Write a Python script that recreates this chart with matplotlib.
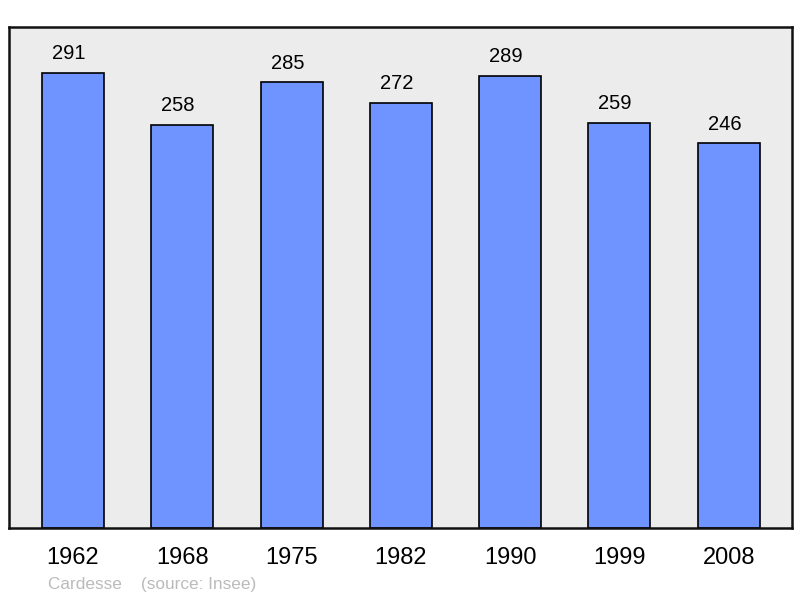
import matplotlib
matplotlib.use("Agg")
import matplotlib.pyplot as plt

years = ["1962", "1968", "1975", "1982", "1990", "1999", "2008"]
population = [291, 258, 285, 272, 289, 259, 246]

plt.rcParams['font.family'] = ['Liberation Sans', 'DejaVu Sans']

fig = plt.figure(figsize=(8.0, 5.98), dpi=100)
W, H = 800, 598
ax = fig.add_axes([9 / W, 1 - 528 / H, (792 - 9) / W, (528 - 27) / H])
ax.set_facecolor('#ececec')

x = list(range(len(years)))
bars = ax.bar(x, population, width=0.567, color='#7094ff', edgecolor='black', linewidth=1.2, zorder=2)
for xi, v in zip(x, population):
    ax.annotate(str(v), (xi, v), xytext=(-3, 7), textcoords='offset points',
                ha='center', va='bottom', fontsize=14.5, color='black')

ax.set_xlim(-0.586, 6.58)
ax.set_ylim(0, 320.4)
ax.set_yticks([])
ax.set_xticks(x)
ax.set_xticklabels(years, fontsize=17)
ax.tick_params(axis='x', length=0, pad=14)
for s in ax.spines.values():
    s.set_linewidth(1.8)
    s.set_color('#111111')

fig.text(48 / W, 1 - 584 / H, "Cardesse    (source: Insee)", fontsize=12.4, color='#bbbbbb', ha='left', va='center')

fig.savefig("out.png", dpi=100)
